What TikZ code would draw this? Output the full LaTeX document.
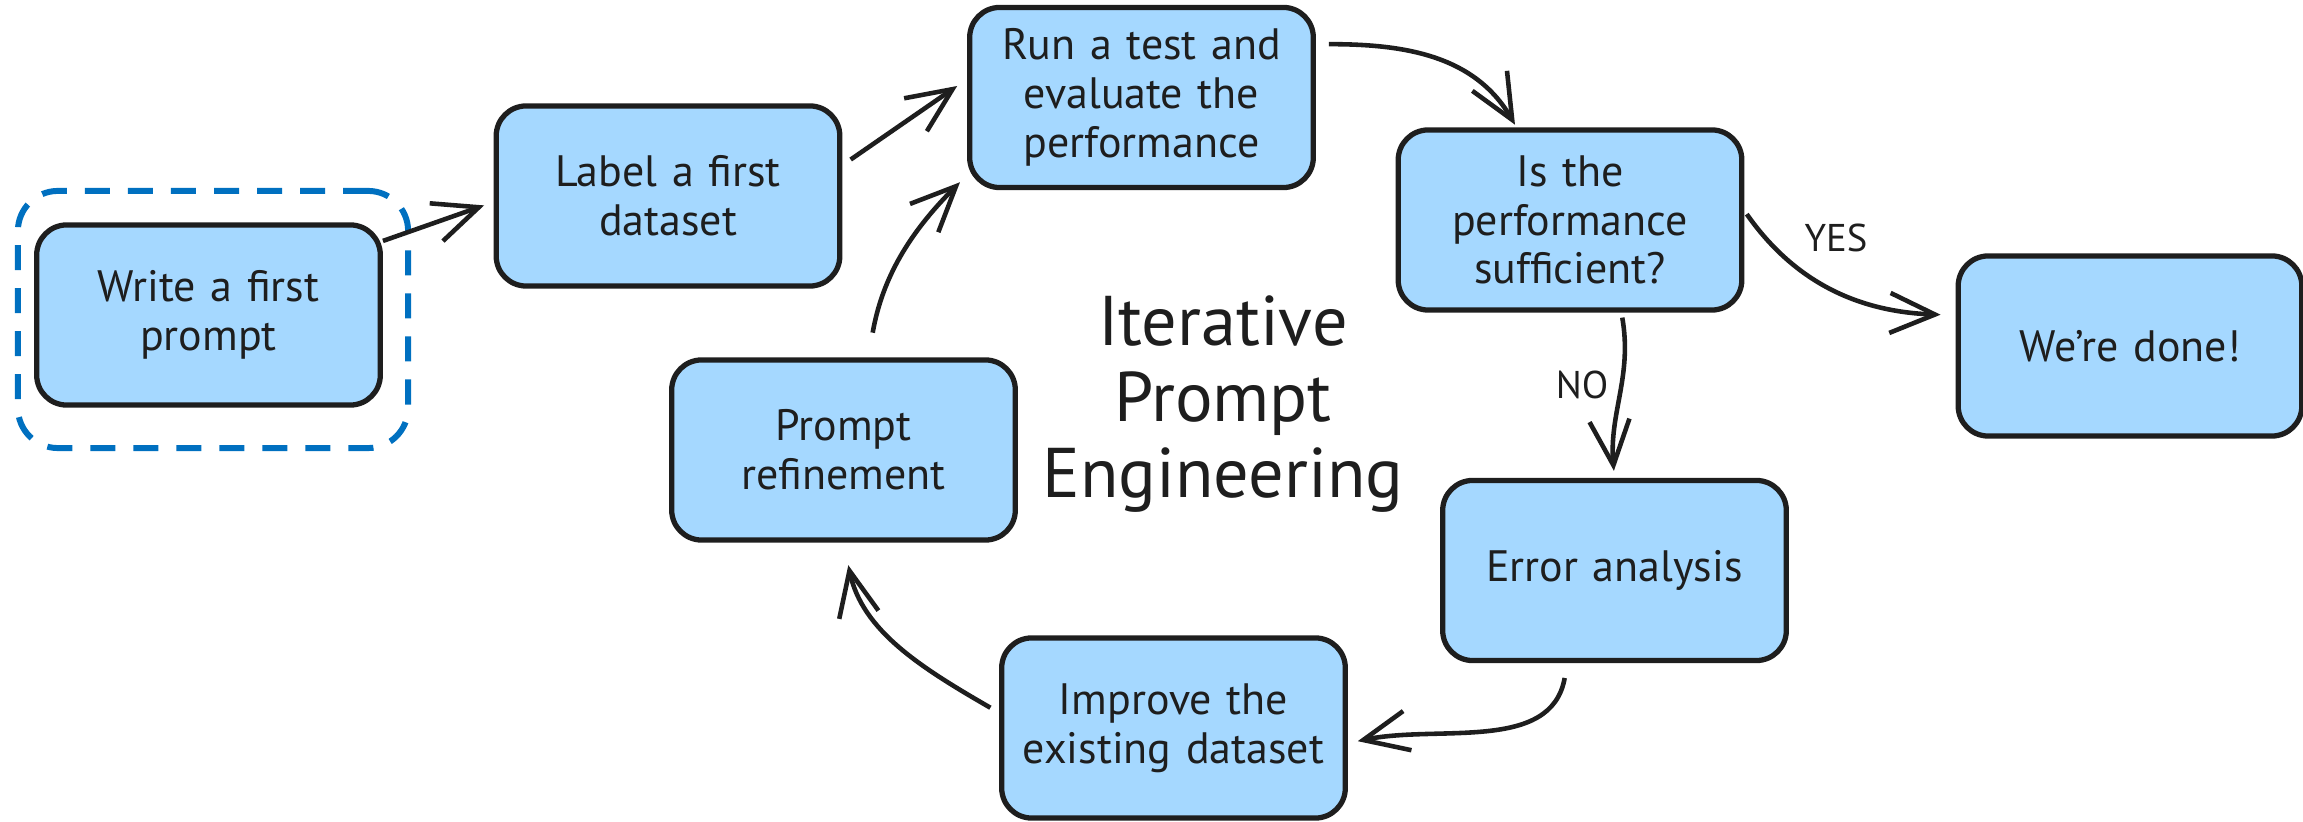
\documentclass[tikz,border=0pt]{standalone}
\usepackage{fontspec}
\setmainfont{PT Sans}
\usetikzlibrary{arrows.meta,positioning}
\definecolor{boxblue}{HTML}{A5D8FF}
\definecolor{inkblack}{HTML}{1E1E1E}
\definecolor{markblue}{HTML}{0070C0}

\tikzset{
  stepbox/.style={draw=inkblack, line width=1.5pt, fill=boxblue,
    rounded corners=0.3cm, minimum width=3.35cm, minimum height=1.8cm,
    text width=3.2cm, align=center, text=inkblack,
    font=\fontsize{12.5}{13.9}\selectfont},
  flow/.style={->, draw=inkblack, line width=1.3pt},
  edgelabel/.style={text=inkblack, font=\fontsize{11}{12}\selectfont}
}

\begin{document}
\begin{tikzpicture}[x=0.01cm,y=-0.01cm,>={Straight Barb[length=4.5mm,width=4mm]}]
  \useasboundingbox (0,0) rectangle (2303,822);
  % start marker
  \node[draw=markblue, line width=1.7pt, dash pattern=on 0.25cm off 0.18cm,
    rounded corners=0.4cm, minimum width=3.9cm, minimum height=2.57cm]
    (start) at (213,319.5) {};
  % steps of the loop
  \node[stepbox] (write) at (208.5,315) {Write a first\\prompt};
  \node[stepbox] (label) at (668,196) {Label a first\\dataset};
  \node[stepbox] (run) at (1141.5,97.5) {Run a test and\\evaluate the\\performance};
  \node[stepbox] (suff) at (1570,220) {Is the\\performance\\sufficient?};
  \node[stepbox] (done) at (2130,346) {We're done!};
  \node[stepbox] (error) at (1614.5,570.5) {Error analysis};
  \node[stepbox] (improve) at (1173.5,728) {Improve the\\existing dataset};
  \node[stepbox] (refine) at (843.5,450) {Prompt\\refinement};
  \node[text=inkblack, align=center, font=\fontsize{20}{21.5}\selectfont]
    (title) at (1223,404) {Iterative\\Prompt\\Engineering};
  % connectors
  \draw[flow, shorten >=0.1cm] (write.23) -- (label.182);
  \draw[flow, shorten <=0.1cm, shorten >=0.12cm] (label.10) -- (run.174);
  \draw[flow, shorten <=0.25cm, shorten >=0.1cm] (refine.75) to[out=80,in=225] (run.204);
  \draw[flow, shorten <=0.13cm, shorten >=0.03cm] (run.17) to[out=0,in=120] (suff.120);
  \draw[flow, shorten <=0.04cm, shorten >=0.15cm] (suff.3) to[out=-55,in=178] (done.170);
  \draw[flow, shorten <=0.05cm, shorten >=0.07cm] (suff.-61) to[out=-80,in=95] (error.north);
  \draw[flow, shorten <=0.15cm, shorten >=0.1cm] (error.-117) to[out=-100,in=12] (improve.-5);
  \draw[flow, shorten <=0.1cm, shorten >=0.23cm] (improve.175) to[out=150,in=-78] (refine.south);
  % branch labels
  \node[edgelabel] (yes) at (1836,238) {YES};
  \node[edgelabel] (no) at (1582,385) {NO};
\end{tikzpicture}
\end{document}
